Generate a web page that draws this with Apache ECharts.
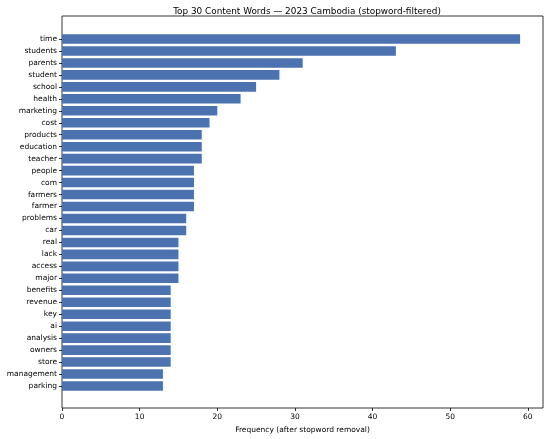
<!DOCTYPE html>
<html>
<head>
<meta charset="utf-8">
<script src="https://cdn.jsdelivr.net/npm/echarts@6/dist/echarts.min.js"></script>
<style>
  html, body { margin: 0; padding: 0; background: #fff; }
  #chart { width: 550px; height: 439px; }
</style>
</head>
<body>
<div id="chart"></div>
<script>
const words = ['time', 'students', 'parents', 'student', 'school', 'health', 'marketing', 'cost',
  'products', 'education', 'teacher', 'people', 'com', 'farmers', 'farmer', 'problems', 'car',
  'real', 'lack', 'access', 'major', 'benefits', 'revenue', 'key', 'ai', 'analysis', 'owners',
  'store', 'management', 'parking'];
const counts = [59, 43, 31, 28, 25, 23, 20, 19, 18, 18, 18, 17, 17, 17, 17, 16, 16,
  15, 15, 15, 15, 14, 14, 14, 14, 14, 14, 14, 13, 13];
const xTicks = [0, 10, 20, 30, 40, 50, 60];

const font = 'DejaVu Sans';
const xMax = 61.95;

const chart = echarts.init(document.getElementById('chart'));
chart.setOption({
  animation: false,
  textStyle: { fontFamily: font },
  title: {
    text: 'Top 30 Content Words — 2023 Cambodia (stopword-filtered)',
    left: 302,
    textAlign: 'center',
    top: 2,
    textStyle: { fontFamily: font, fontSize: 8.9, fontWeight: 'normal', color: '#000' }
  },
  grid: [
    // frame
    { left: 62, right: 7, top: 16, bottom: 30, show: true, borderColor: '#000', borderWidth: 0.8, backgroundColor: 'transparent' },
    // bars
    { left: 62, right: 7, top: 33, bottom: 47 }
  ],
  xAxis: [
    {
      gridIndex: 0, type: 'value', min: 0, max: xMax, interval: 10,
      name: 'Frequency (after stopword removal)', nameLocation: 'middle', nameGap: 18,
      nameTextStyle: { fontFamily: font, fontSize: 7.5, color: '#000' },
      axisLine: { show: false },
      axisTick: { show: true, length: 3, lineStyle: { color: '#000', width: 0.8 } },
      axisLabel: {
        fontFamily: font, fontSize: 7.5, color: '#000', margin: 5,
        showMaxLabel: false,
        formatter: v => (xTicks.indexOf(v) >= 0 ? String(v) : '')
      },
      splitLine: { show: false }
    },
    {
      gridIndex: 1, type: 'value', min: 0, max: xMax, show: false, splitLine: { show: false }
    }
  ],
  yAxis: [
    { gridIndex: 0, type: 'value', show: false, splitLine: { show: false } },
    {
      gridIndex: 1, type: 'category', data: words, inverse: true,
      axisLine: { show: false },
      axisTick: { show: true, alignWithLabel: true, length: 3, lineStyle: { color: '#000', width: 0.8 } },
      axisLabel: { fontFamily: font, fontSize: 7.5, color: '#000', margin: 5 }
    }
  ],
  series: [
    {
      type: 'bar',
      xAxisIndex: 1,
      yAxisIndex: 1,
      data: counts,
      barWidth: '80%',
      itemStyle: { color: '#4c72b0' }
    }
  ]
});
</script>
</body>
</html>
